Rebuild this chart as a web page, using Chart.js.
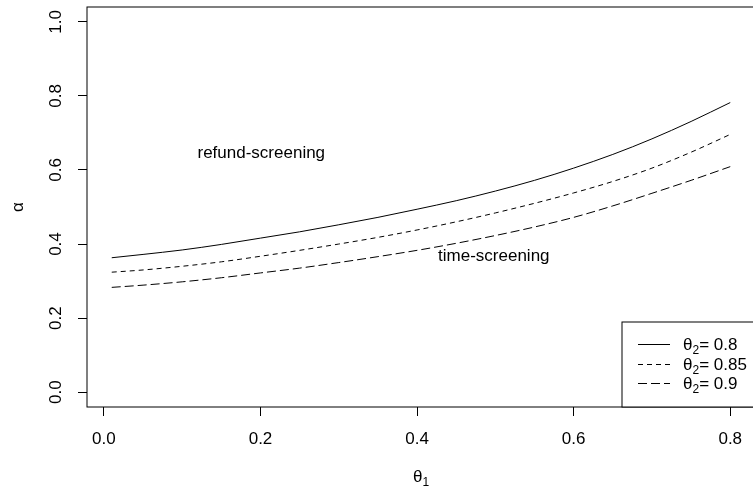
<!DOCTYPE html>
<html><head><meta charset="utf-8">
<script src="https://cdn.jsdelivr.net/npm/chart.js@4/dist/chart.umd.min.js"></script>
<style>
html,body{margin:0;padding:0;overflow:hidden;background:#fff;width:753px;height:495px}
canvas{display:block}
</style></head>
<body>
<canvas id="c" width="760" height="495" style="width:760px;height:495px"></canvas>
<script>
// ---- data ----
const theta1 = [0.01,0.05,0.10,0.15,0.20,0.25,0.30,0.35,0.40,0.45,0.50,0.55,0.60,0.65,0.70,0.75,0.80];
const alphaTheta2_080 = [0.363,0.372,0.384,0.399,0.416,0.433,0.452,0.472,0.494,0.517,0.543,0.572,0.605,0.642,0.684,0.731,0.782];
const alphaTheta2_085 = [0.324,0.330,0.340,0.352,0.367,0.383,0.400,0.418,0.438,0.460,0.484,0.510,0.538,0.569,0.605,0.648,0.696];
const alphaTheta2_090 = [0.283,0.289,0.298,0.309,0.322,0.335,0.350,0.366,0.383,0.402,0.423,0.446,0.472,0.503,0.537,0.572,0.609];
const seriesLabels = ['0.8','0.85','0.9'];
const xTicks = [0.0,0.2,0.4,0.6,0.8];
const yTicks = [0.0,0.2,0.4,0.6,0.8,1.0];
const regionLabels = ['refund-screening','time-screening'];
const regionX = [0.201,0.498];
const regionY = [0.646,0.368];

const FONT = '"Liberation Sans", Arial, sans-serif';
const FS = 17;
const dashes = [[], [5,4], [9,4]];
const allSeries = [alphaTheta2_080, alphaTheta2_085, alphaTheta2_090];

const datasets = allSeries.map((s,i)=>({
  label: 'θ2= ' + seriesLabels[i],
  data: theta1.map((t,j)=>({x:t, y:s[j]})),
  borderColor: '#000',
  borderWidth: 1,
  borderDash: dashes[i],
  pointRadius: 0,
  fill: false,
  tension: 0.3,
  cubicInterpolationMode: 'monotone'
}));

const extras = {
  id: 'extras',
  afterDraw(chart) {
    const ctx = chart.ctx;
    const a = chart.chartArea;
    const xs = chart.scales.x, ys = chart.scales.y;
    ctx.save();
    // plot box
    ctx.strokeStyle = '#000';
    ctx.lineWidth = 1;
    ctx.strokeRect(a.left, a.top, a.right - a.left, a.bottom - a.top);
    // region labels
    ctx.fillStyle = '#000';
    ctx.font = FS + 'px ' + FONT;
    ctx.textAlign = 'center';
    ctx.textBaseline = 'middle';
    regionLabels.forEach((t,i)=>{
      ctx.fillText(t, xs.getPixelForValue(regionX[i]), ys.getPixelForValue(regionY[i]));
    });
    // legend (bottom-right)
    const L = a.right - 133, T = a.bottom - 85;
    ctx.fillStyle = '#fff';
    ctx.fillRect(L, T, a.right - L, a.bottom - T);
    ctx.strokeRect(L, T, a.right - L, a.bottom - T);
    ctx.textAlign = 'left';
    ctx.textBaseline = 'alphabetic';
    seriesLabels.forEach((lab,i)=>{
      const cy = a.bottom - 63 + i*19.5;
      ctx.beginPath();
      ctx.setLineDash(dashes[i]);
      ctx.strokeStyle = '#000';
      ctx.moveTo(L + 16, Math.round(cy) + 0.5);
      ctx.lineTo(L + 48, Math.round(cy) + 0.5);
      ctx.stroke();
      ctx.setLineDash([]);
      ctx.fillStyle = '#000';
      let x = L + 61;
      const base = cy + 6;
      ctx.font = FS + 'px ' + FONT;
      ctx.fillText('θ', x, base);
      x += ctx.measureText('θ').width;
      ctx.font = '12px ' + FONT;
      ctx.fillText('2', x, base + 4);
      x += ctx.measureText('2').width;
      ctx.font = FS + 'px ' + FONT;
      ctx.fillText('= ' + lab, x, base);
    });
    // x axis title with subscript
    ctx.font = FS + 'px ' + FONT;
    const cx = (a.left + a.right) / 2;
    const tw = ctx.measureText('θ').width;
    ctx.font = '12px ' + FONT;
    const sw = ctx.measureText('1').width;
    let x0 = cx - (tw + sw)/2;
    ctx.font = FS + 'px ' + FONT;
    ctx.fillText('θ', x0, 482);
    ctx.font = '12px ' + FONT;
    ctx.fillText('1', x0 + tw, 486);
    ctx.restore();
  }
};

new Chart(document.getElementById('c'), {
  type: 'line',
  data: { datasets },
  plugins: [extras],
  options: {
    responsive: false,
    animation: false,
    devicePixelRatio: 1,
    layout: { padding: { left: 0, top: 7, right: 5, bottom: 0 } },
    plugins: { legend: { display: false }, tooltip: { enabled: false } },
    scales: {
      x: {
        type: 'linear',
        min: -0.0216, max: 0.8316,
        afterFit: s => { s.height = 88; s.paddingLeft = 0; s.paddingRight = 0; },
        afterBuildTicks: s => { s.ticks = xTicks.map(v=>({value:v})); },
        border: { display: false },
        grid: { drawOnChartArea: false, drawTicks: true, tickLength: 9, color: '#000', tickColor: '#000' },
        ticks: { color: '#000', font: { family: FONT, size: FS }, padding: 13, maxRotation: 0, minRotation: 0,
                 callback: v => v.toFixed(1) },
        title: { display: false }
      },
      y: {
        type: 'linear',
        min: -0.04, max: 1.04,
        afterFit: s => { s.width = 87; s.paddingTop = 0; s.paddingBottom = 0; },
        afterBuildTicks: s => { s.ticks = yTicks.map(v=>({value:v})); },
        border: { display: false },
        grid: { drawOnChartArea: false, drawTicks: true, tickLength: 9, color: '#000', tickColor: '#000' },
        ticks: { color: '#000', font: { family: FONT, size: FS }, padding: 10, minRotation: 90, maxRotation: 90,
                 crossAlign: 'center', callback: v => v.toFixed(1) },
        title: { display: true, text: 'α', color: '#000', font: { family: FONT, size: FS }, padding: { top: 8, bottom: 0 } }
      }
    }
  }
});
</script>
</body></html>
